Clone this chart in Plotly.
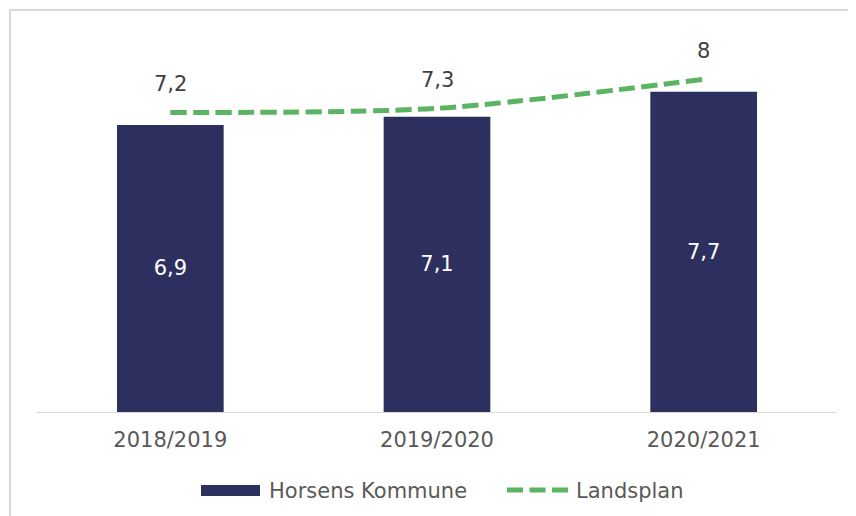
import plotly.graph_objects as go

categories = ["2018/2019", "2019/2020", "2020/2021"]
horsens = [6.9, 7.1, 7.7]
landsplan = [7.2, 7.3, 8]
series_names = ["Horsens Kommune", "Landsplan"]

BAR_COLOR = "#2D2F5F"
LINE_COLOR = "#5BB462"
TEXT_COLOR = "#595959"
LABEL_COLOR = "#404040"
FONT = "DejaVu Sans"
FS = 21

# plot-area geometry (pixels in the page) used to convert legend placement
PL, PR, PT, PB = 37, 837, 30, 412


def px_x(p):
    return (p - PL) / (PR - PL)


def px_y(p):
    return (PB - p) / (PB - PT)


def fmt(v):
    return ("%g" % v).replace(".", ",")


fig = go.Figure()
fig.add_trace(go.Bar(
    x=categories, y=horsens, name=series_names[0],
    marker=dict(color=BAR_COLOR, line=dict(width=0)),
    text=[fmt(v) for v in horsens], textposition="inside",
    insidetextanchor="middle",
    textfont=dict(color="white", size=FS, family=FONT),
    showlegend=False,
))
fig.add_trace(go.Scatter(
    x=categories, y=landsplan, name=series_names[1], mode="lines",
    line=dict(color=LINE_COLOR, width=5, dash="16px,6.5px", shape="spline", smoothing=0.8),
    showlegend=False,
))
for c, v in zip(categories, landsplan):
    fig.add_annotation(x=c, y=v, text=fmt(v), showarrow=False, yshift=28,
                       font=dict(color=LABEL_COLOR, size=FS, family=FONT))

# chart border
fig.add_shape(type="rect", xref="paper", yref="paper",
              x0=px_x(10), x1=px_x(900), y0=px_y(560), y1=px_y(10),
              line=dict(color="#D9D9D9", width=2), fillcolor="rgba(0,0,0,0)", layer="below")

# custom legend
fig.add_shape(type="rect", xref="paper", yref="paper",
              x0=px_x(201), x1=px_x(260), y0=px_y(496), y1=px_y(485),
              line=dict(width=0), fillcolor=BAR_COLOR)
fig.add_annotation(xref="paper", yref="paper", x=px_x(267), y=px_y(491),
                   xanchor="left", yanchor="middle", text=series_names[0], showarrow=False,
                   font=dict(color=TEXT_COLOR, size=FS, family=FONT))
fig.add_shape(type="line", xref="paper", yref="paper",
              x0=px_x(507), x1=px_x(568), y0=px_y(490), y1=px_y(490),
              line=dict(color=LINE_COLOR, width=5, dash="16px,6.5px"))
fig.add_annotation(xref="paper", yref="paper", x=px_x(574), y=px_y(491),
                   xanchor="left", yanchor="middle", text=series_names[1], showarrow=False,
                   font=dict(color=TEXT_COLOR, size=FS, family=FONT))

# page body has an 8px margin; compensate so the plot area lands at PL..PR, PT..PB
OFF = 8
W, H = 856 - OFF, 516 - OFF
fig.update_layout(
    width=W, height=H,
    margin=dict(l=PL - OFF, r=856 - PR, t=PT - OFF, b=516 - PB),
    plot_bgcolor="white", paper_bgcolor="white",
    bargap=0.6,
    font=dict(family=FONT, size=FS, color=TEXT_COLOR),
    showlegend=False,
    xaxis=dict(showline=True, linecolor="#D9D9D9", linewidth=1, ticks="",
               ticklabelstandoff=9,
               tickfont=dict(size=FS, color=TEXT_COLOR), showgrid=False),
    yaxis=dict(range=[0, (PB - PT) / 41.6], visible=False, showgrid=False, zeroline=False),
)

fig.write_html("out.html")
